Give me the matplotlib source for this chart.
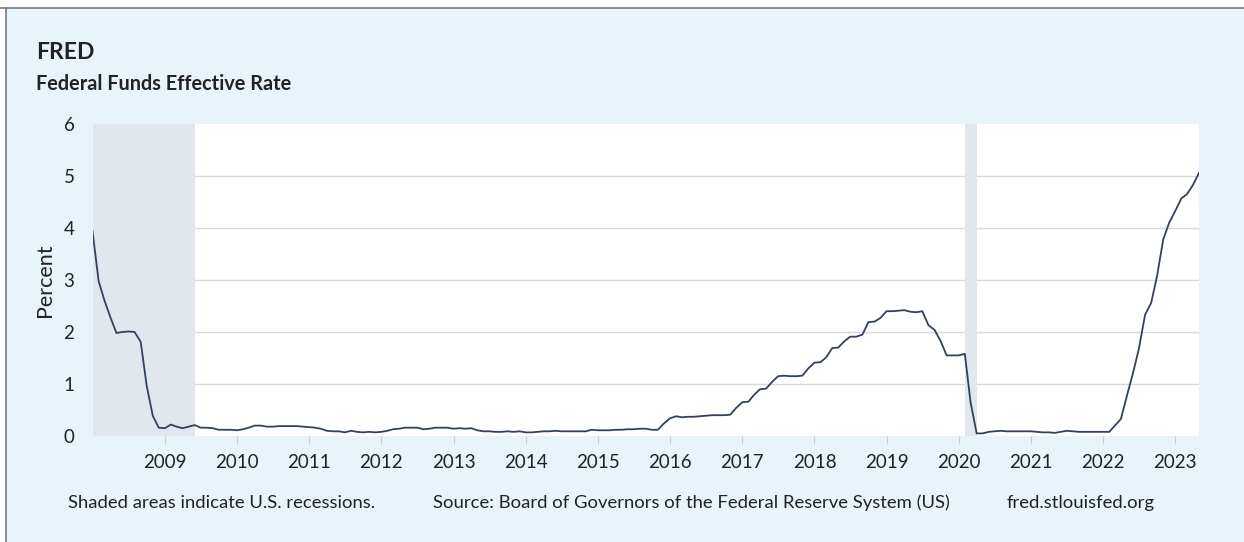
import pandas as pd
import matplotlib.pyplot as plt
import matplotlib.dates as mdates
from matplotlib.lines import Line2D
from matplotlib.patches import Rectangle

plt.rcParams['font.family'] = ['Lato', 'DejaVu Sans']

# monthly federal funds effective rate, Jan 2008 .. May 2023 (percent)
rate_2008 = [3.94, 2.98, 2.61, 2.28, 1.98, 2.00, 2.01, 2.00, 1.81, 0.97, 0.39, 0.16]
rate_2009 = [0.15, 0.22, 0.18, 0.15, 0.18, 0.21, 0.16, 0.16, 0.15, 0.12, 0.12, 0.12]
rate_2010 = [0.11, 0.13, 0.16, 0.20, 0.20, 0.18, 0.18, 0.19, 0.19, 0.19, 0.19, 0.18]
rate_2011 = [0.17, 0.16, 0.14, 0.10, 0.09, 0.09, 0.07, 0.10, 0.08, 0.07, 0.08, 0.07]
rate_2012 = [0.08, 0.10, 0.13, 0.14, 0.16, 0.16, 0.16, 0.13, 0.14, 0.16, 0.16, 0.16]
rate_2013 = [0.14, 0.15, 0.14, 0.15, 0.11, 0.09, 0.09, 0.08, 0.08, 0.09, 0.08, 0.09]
rate_2014 = [0.07, 0.07, 0.08, 0.09, 0.09, 0.10, 0.09, 0.09, 0.09, 0.09, 0.09, 0.12]
rate_2015 = [0.11, 0.11, 0.11, 0.12, 0.12, 0.13, 0.13, 0.14, 0.14, 0.12, 0.12, 0.24]
rate_2016 = [0.34, 0.38, 0.36, 0.37, 0.37, 0.38, 0.39, 0.40, 0.40, 0.40, 0.41, 0.54]
rate_2017 = [0.65, 0.66, 0.79, 0.90, 0.91, 1.04, 1.15, 1.16, 1.15, 1.15, 1.16, 1.30]
rate_2018 = [1.41, 1.42, 1.51, 1.69, 1.70, 1.82, 1.91, 1.91, 1.95, 2.19, 2.20, 2.27]
rate_2019 = [2.40, 2.40, 2.41, 2.42, 2.39, 2.38, 2.40, 2.13, 2.04, 1.83, 1.55, 1.55]
rate_2020 = [1.55, 1.58, 0.65, 0.05, 0.05, 0.08, 0.09, 0.10, 0.09, 0.09, 0.09, 0.09]
rate_2021 = [0.09, 0.08, 0.07, 0.07, 0.06, 0.08, 0.10, 0.09, 0.08, 0.08, 0.08, 0.08]
rate_2022 = [0.08, 0.08, 0.20, 0.33, 0.77, 1.21, 1.68, 2.33, 2.56, 3.08, 3.78, 4.10]
rate_2023 = [4.33, 4.57, 4.65, 4.83, 5.06]

rates = (rate_2008 + rate_2009 + rate_2010 + rate_2011 + rate_2012 + rate_2013
         + rate_2014 + rate_2015 + rate_2016 + rate_2017 + rate_2018 + rate_2019
         + rate_2020 + rate_2021 + rate_2022 + rate_2023)
dates = pd.date_range("2008-01-01", periods=len(rates), freq="MS")

recessions = [("2008-01-01", "2009-06-01"), ("2020-02-01", "2020-04-01")]
year_ticks = list(range(2009, 2024))

panel = "#e8f3fa"
text_col = "#222222"

fig = plt.figure(figsize=(12.44, 5.42), dpi=100)
fig.patch.set_facecolor("white")
# light blue panel with grey border on top and left only
px_left = 6 / 1244
px_top = 1 - 7.5 / 542
fig.patches.append(Rectangle((px_left, 0), 1 - px_left, px_top,
                             transform=fig.transFigure, facecolor=panel,
                             edgecolor="none", zorder=-5))
fig.lines.append(Line2D([0, 1], [px_top, px_top], transform=fig.transFigure,
                        color="#7a7a7a", lw=1.2, zorder=-4))
fig.lines.append(Line2D([px_left, px_left], [0, px_top], transform=fig.transFigure,
                        color="#7a7a7a", lw=1.2, zorder=-4))

ax = fig.add_axes([92.5 / 1244, 106 / 542, (1199 - 92.5) / 1244, (436 - 124) / 542])
ax.set_facecolor("white")

for start, end in recessions:
    ax.axvspan(pd.Timestamp(start), pd.Timestamp(end), color="#e1e7ec", lw=0, zorder=1)

ax.plot(dates, rates, color="#33415c", lw=1.3, zorder=3)

ax.set_xlim(dates[0], dates[-1])
ax.set_ylim(0, 6)
ax.set_yticks(range(0, 7))
ax.set_xticks([pd.Timestamp(f"{y}-01-01") for y in year_ticks])
ax.xaxis.set_major_formatter(mdates.DateFormatter("%Y"))

for s in ax.spines.values():
    s.set_visible(False)
ax.tick_params(axis="x", length=6, width=0.8, color="#cccccc", pad=7,
               labelsize=13.5, labelcolor=text_col)
ax.tick_params(axis="y", length=0, pad=13, labelsize=13.5, labelcolor=text_col)

ax.set_axisbelow(True)
ax.yaxis.grid(True, color="#d9d9d9", lw=1.0)
gl = ax.get_ygridlines()
gl[0].set_visible(False)
gl[-1].set_visible(False)

ax.set_ylabel("Percent", fontsize=15.5, color=text_col, labelpad=6)

# --- TITLES ---
fig.text(36 / 1244, 1 - 59 / 542, "FRED", fontsize=16.5, fontweight="bold",
         color=text_col, va="baseline")
fig.text(36 / 1244, 1 - 90 / 542, "Federal Funds Effective Rate", fontsize=14.3,
         fontweight="bold", color=text_col, va="baseline")

# --- FOOTER ---
fy = 1 - 503 / 542
fig.text(68 / 1244, fy, "Shaded areas indicate U.S. recessions.", fontsize=13.3,
         color=text_col, va="center")
fig.text(433 / 1244, fy, "Source: Board of Governors of the Federal Reserve System (US)",
         fontsize=13.3, color=text_col, va="center")
fig.text(1007 / 1244, fy, "fred.stlouisfed.org", fontsize=13.3, color=text_col, va="center")

fig.savefig("out.png", dpi=100)
